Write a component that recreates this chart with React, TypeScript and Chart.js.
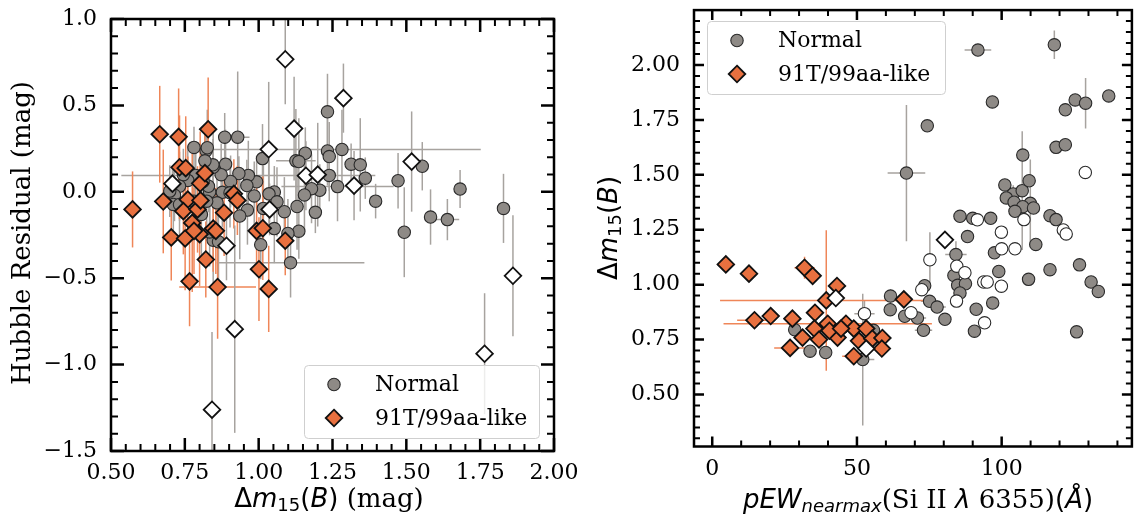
import { useEffect, useRef } from 'react';
import { Chart, registerables } from 'chart.js';

Chart.register(...registerables);

// ---------------- DATA ----------------
// Left panel: [Δm15(B), Hubble residual, xerr, yerr]
const hrNormal: number[][] = [
  [0.781, 0.257, 0, 0.12], [0.822, 0.238, 0, 0.15], [0.826, 0.255, 0, 0.22], [0.885, 0.316, 0, 0.14],
  [0.929, 0.316, 0.04, 0.38], [1.013, 0.192, 0, 0.2], [1.233, 0.463, 0, 0.22], [1.282, 0.245, 0.47, 0.23],
  [1.233, 0.236, 0, 0.2], [1.239, 0.204, 0, 0.2], [1.158, 0.223, 0, 0.15], [1.126, 0.179, 0.067, 0.3],
  [1.136, 0.175, 0, 0.25], [1.313, 0.16, 0, 0.12], [1.344, 0.156, 0, 0.27], [1.361, 0.079, 0, 0.12],
  [1.239, 0.095, 0, 0.15], [1.267, 0.03, 0.19, 0.2], [1.207, 0.009, 0, 0.15], [1.179, 0.018, 0, 0.2],
  [1.155, -0.018, 0, 0.2], [1.192, -0.119, 0, 0.12], [1.13, -0.085, 0, 0.25], [1.136, -0.228, 0, 0.16],
  [1.099, -0.241, 0, 0.2], [1.108, -0.411, 0.25, 0.2], [1.087, -0.115, 0, 0.2], [1.053, -0.001, 0, 0.15],
  [1.035, -0.012, 0, 0.2], [1.062, -0.058, 0, 0.2], [1.053, -0.213, 0, 0.2], [1.016, -0.096, 0, 0.25],
  [1.007, -0.306, 0, 0.2], [0.993, 0.058, 0, 0.15], [0.965, 0.095, 0.43, 0.2], [0.96, 0.036, 0, 0.15],
  [0.985, -0.024, 0, 0.2], [0.962, -0.106, 0, 0.2], [0.936, -0.14, 0, 0.25], [0.933, 0.106, 0, 0.1],
  [0.905, 0.06, 0, 0.15], [0.888, 0.16, 0, 0.2], [0.873, 0.099, 0, 0.18], [0.846, 0.142, 0, 0.2],
  [0.845, 0.156, 0, 0.15], [0.818, 0.179, 0, 0.2], [0.877, -0.003, 0, 0.2], [0.903, -0.006, 0, 0.2],
  [0.859, -0.064, 0, 0.25], [0.834, -0.001, 0, 0.2], [0.83, 0.032, 0, 0.15], [0.812, 0.06, 0, 0.2],
  [0.787, 0.095, 0, 0.15], [0.76, 0.066, 0, 0.2], [0.745, 0.099, 0, 0.15], [0.732, 0.032, 0, 0.2],
  [0.715, -0.02, 0, 0.15], [0.711, -0.073, 0, 0.2], [0.699, 0.004, 0, 0.15], [0.732, -0.073, 0, 0.2],
  [0.781, -0.054, 0, 0.2], [0.806, -0.131, 0, 0.25], [0.824, -0.054, 0, 0.2], [0.846, -0.28, 0, 0.25],
  [0.864, -0.289, 0, 0.3], [0.834, -0.232, 0, 0.2], [1.396, -0.054, 0, 0.1], [1.472, 0.064, 0, 0.16],
  [1.493, -0.234, 0, 0.26], [1.554, 0.148, 0, 0.14], [1.582, -0.146, 0, 0.16], [1.639, -0.161, 0.04, 0.12],
  [1.682, 0.016, 0, 0.11], [1.829, -0.096, 0, 0.2],
];
const hr91T: number[][] = [
  [0.573, -0.102, 0, 0.22], [0.665, 0.333, 0, 0.28], [0.729, 0.318, 0, 0.28], [0.829, 0.362, 0, 0.3],
  [0.732, 0.142, 0, 0.3], [0.753, 0.137, 0, 0.3], [0.802, 0.049, 0, 0.3], [0.818, 0.108, 0, 0.25],
  [0.677, -0.056, 0, 0.3], [0.76, -0.045, 0, 0.25], [0.745, -0.112, 0, 0.25], [0.793, -0.102, 0, 0.25],
  [0.803, -0.05, 0, 0.25], [0.775, -0.18, 0, 0.4], [0.704, -0.264, 0, 0.25], [0.751, -0.27, 0, 0.3],
  [0.8, -0.245, 0, 0.3], [0.846, -0.213, 0.03, 0.25], [0.883, -0.121, 0, 0.25], [0.821, -0.392, 0, 0.22],
  [0.766, -0.518, 0, 0.26], [0.861, -0.551, 0.13, 0.3], [0.916, -0.012, 0, 0.2], [0.928, -0.05, 0, 0.2],
  [0.993, -0.226, 0.02, 0.25], [1.014, -0.211, 0, 0.3], [1.001, -0.448, 0, 0.3], [1.034, -0.562, 0.02, 0.25],
  [1.09, -0.283, 0.02, 0.2], [0.781, -0.226, 0, 0.25], [0.855, -0.226, 0, 0.25],
];
const hr91TOpen: number[][] = [
  [0.708, 0.047, 0, 0.1], [1.09, 0.767, 0, 0.26], [1.287, 0.542, 0, 0.2], [1.12, 0.366, 0, 0.3],
  [1.034, 0.246, 0, 0.39], [1.16, 0.093, 0, 0.2], [1.2, 0.099, 0, 0.3], [1.323, 0.036, 0, 0.2],
  [1.518, 0.175, 0, 0.29], [1.037, -0.102, 0, 0.15], [0.891, -0.312, 0, 0.2], [0.919, -0.795, 0, 0.6],
  [0.842, -1.261, 0, 0.45], [1.765, -0.937, 0, 0.35], [1.861, -0.486, 0, 0.35],
];

// Right panel: [pEW(Si II 6355), Δm15(B), xerr, yerr]
const pewNormal: number[][] = [
  [91.8, 2.068, 4.6, 0], [118.2, 2.092, 0, 0.065], [96.8, 1.832, 0, 0], [74.3, 1.723, 0, 0],
  [137.0, 1.859, 0, 0], [125.4, 1.841, 0, 0], [129.0, 1.826, 0, 0.115], [122.0, 1.796, 0, 0],
  [118.8, 1.625, 0, 0], [122.0, 1.637, 0, 0], [67.1, 1.508, 6.5, 0.31], [107.3, 1.59, 0, 0],
  [101.1, 1.454, 0, 0], [104.0, 1.413, 0, 0.04], [101.6, 1.395, 0, 0], [107.1, 1.428, 0, 0.27],
  [109.5, 1.473, 0, 0], [109.9, 1.37, 0, 0.2], [104.3, 1.375, 0, 0], [107.3, 1.355, 0, 0],
  [111.0, 1.349, 0, 0], [104.6, 1.334, 0, 0], [85.6, 1.311, 0, 0], [90.0, 1.302, 0, 0],
  [96.2, 1.302, 0, 0], [116.7, 1.314, 0, 0], [118.8, 1.296, 0, 0], [88.2, 1.219, 0, 0],
  [111.8, 1.183, 0, 0], [97.5, 1.145, 0, 0], [84.2, 1.137, 3.7, 0.06], [99.0, 1.06, 0, 0],
  [116.7, 1.068, 0, 0], [126.9, 1.09, 0, 0], [109.3, 1.024, 0, 0], [83.5, 1.042, 0, 0],
  [84.8, 0.997, 0, 0], [87.5, 1.004, 0, 0], [85.6, 0.962, 0, 0], [130.9, 1.012, 0, 0],
  [133.4, 0.969, 0, 0], [96.9, 0.916, 0, 0], [91.2, 0.888, 0, 0], [125.9, 0.785, 0, 0],
  [90.6, 0.788, 0, 0], [73.4, 0.995, 0, 0], [75.1, 0.924, 3, 0], [77.7, 0.898, 3, 0],
  [80.4, 0.842, 0, 0], [73.0, 0.792, 3, 0], [61.6, 0.948, 0, 0.03], [61.5, 0.886, 0, 0],
  [66.5, 0.856, 0, 0], [70.9, 0.848, 3, 0], [28.5, 0.795, 0, 0], [33.8, 0.697, 0, 0],
  [39.2, 0.691, 0, 0], [52.0, 0.659, 4, 0.3], [55.7, 0.792, 0, 0],
];
const pewNormalOpen: number[][] = [
  [128.9, 1.511, 0, 0], [107.7, 1.296, 0, 0], [91.6, 1.295, 0, 0], [99.9, 1.239, 0, 0],
  [121.3, 1.249, 0, 0], [122.3, 1.231, 0, 0], [104.6, 1.163, 0, 0], [100.0, 1.163, 0, 0],
  [75.2, 1.113, 0, 0.125], [84.5, 1.084, 0, 0], [87.3, 1.054, 0, 0], [93.8, 1.012, 0, 0],
  [95.0, 1.012, 0, 0], [99.9, 0.993, 0, 0], [72.4, 0.977, 0, 0], [84.4, 0.925, 0, 0],
  [94.1, 0.826, 0, 0], [68.7, 0.872, 0, 0], [52.6, 0.868, 3.5, 0.06],
];
const pew91T: number[][] = [
  [4.7, 1.092, 3, 0], [12.7, 1.05, 0, 0], [31.9, 1.077, 3.5, 0.05], [34.7, 1.04, 0, 0.03],
  [43.1, 0.994, 0, 0], [39.4, 0.928, 36.7, 0.32], [66.2, 0.933, 0, 0], [14.6, 0.838, 6, 0],
  [20.2, 0.857, 0, 0], [27.7, 0.845, 0, 0], [35.5, 0.872, 0, 0], [39.9, 0.822, 36, 0],
  [35.3, 0.8, 0, 0], [31.2, 0.759, 0, 0], [36.9, 0.75, 0, 0], [43.3, 0.759, 0, 0],
  [26.9, 0.712, 5.5, 0], [46.2, 0.822, 0, 0], [48.9, 0.8, 0, 0], [53.2, 0.8, 0, 0],
  [50.7, 0.744, 0, 0], [48.9, 0.674, 4, 0], [55.3, 0.754, 0, 0], [58.8, 0.757, 0, 0],
  [58.6, 0.709, 0, 0], [40.5, 0.79, 0, 0], [44.5, 0.8, 0, 0],
];
const pew91TOpen: number[][] = [
  [80.4, 1.204, 0, 0], [42.7, 0.939, 0, 0], [53.2, 0.709, 0, 0],
];

const leftXTicks = [0.5, 0.75, 1.0, 1.25, 1.5, 1.75, 2.0];
const leftXTickLabels = ['0.50', '0.75', '1.00', '1.25', '1.50', '1.75', '2.00'];
const leftYTicks = [-1.5, -1.0, -0.5, 0.0, 0.5, 1.0];
const leftYTickLabels = ['\u22121.5', '\u22121.0', '\u22120.5', '0.0', '0.5', '1.0'];
const rightXTicks = [0, 50, 100];
const rightXTickLabels = ['0', '50', '100'];
const rightYTicks = [0.5, 0.75, 1.0, 1.25, 1.5, 1.75, 2.0];
const rightYTickLabels = ['0.50', '0.75', '1.00', '1.25', '1.50', '1.75', '2.00'];
const legendLabels = ['Normal', '91T/99aa-like'];

// ---------------- STYLE ----------------
const SERIF = '"DejaVu Serif", "Liberation Serif", serif';
const SANS = '"DejaVu Sans", sans-serif';
const GRAY_FILL = '#8e8a86';
const GRAY_EDGE = '#2a2a2a';
const GRAY_ERR = '#a7a39f';
const ORANGE_FILL = '#e8703f';
const ORANGE_ERR = '#ef8658';
const TICK_FONT = 22;
const TITLE_FONT = 26;
const CIRCLE_R = 6.2;
const DIAMOND_R = 8.3;

type Seg = { t: string; font: string; dy?: number };

const toPoints = (rows: number[][]) =>
  rows.map((r) => ({ x: r[0], y: r[1], xerr: r[2] || 0, yerr: r[3] || 0 }));

function dataset(label: string, rows: number[][], kind: string, order: number, errColor: string) {
  const isDiamond = kind === 't91' || kind === 't91Open';
  const fill = kind === 'normal' ? GRAY_FILL : kind === 't91' ? ORANGE_FILL : '#ffffff';
  return {
    label,
    data: toPoints(rows),
    order,
    errColor,
    showLine: false,
    pointStyle: isDiamond ? 'rectRot' : 'circle',
    pointRadius: isDiamond ? DIAMOND_R : CIRCLE_R,
    pointBackgroundColor: fill,
    pointBorderColor: isDiamond ? '#111111' : GRAY_EDGE,
    pointBorderWidth: isDiamond ? 1.8 : 1.1,
    backgroundColor: fill,
    borderColor: isDiamond ? '#111111' : GRAY_EDGE,
  };
}

function drawRich(ctx: CanvasRenderingContext2D, segs: Seg[], x: number, y: number, rotate: boolean) {
  ctx.save();
  ctx.translate(x, y);
  if (rotate) ctx.rotate(-Math.PI / 2);
  let total = 0;
  for (const s of segs) {
    ctx.font = s.font;
    total += ctx.measureText(s.t).width;
  }
  let cx = -total / 2;
  ctx.textAlign = 'left';
  ctx.textBaseline = 'alphabetic';
  ctx.fillStyle = '#000';
  for (const s of segs) {
    ctx.font = s.font;
    ctx.fillText(s.t, cx, s.dy || 0);
    cx += ctx.measureText(s.t).width;
  }
  ctx.restore();
}

function marker(ctx: CanvasRenderingContext2D, kind: string, x: number, y: number) {
  ctx.beginPath();
  if (kind === 'circle') {
    ctx.arc(x, y, CIRCLE_R, 0, Math.PI * 2);
    ctx.fillStyle = GRAY_FILL;
    ctx.strokeStyle = GRAY_EDGE;
    ctx.lineWidth = 1.1;
  } else {
    const r = DIAMOND_R;
    ctx.moveTo(x, y - r);
    ctx.lineTo(x + r, y);
    ctx.lineTo(x, y + r);
    ctx.lineTo(x - r, y);
    ctx.closePath();
    ctx.fillStyle = ORANGE_FILL;
    ctx.strokeStyle = '#111111';
    ctx.lineWidth = 1.8;
  }
  ctx.fill();
  ctx.stroke();
}

function makeDecor(spec: any) {
  return {
    id: 'decor' + spec.id,
    beforeDatasetsDraw(chart: any) {
      const ctx = chart.ctx as CanvasRenderingContext2D;
      const a = chart.chartArea;
      const xs = chart.scales.x;
      const ys = chart.scales.y;
      ctx.save();
      ctx.beginPath();
      ctx.rect(a.left, a.top, a.right - a.left, a.bottom - a.top);
      ctx.clip();
      ctx.lineWidth = 1.5;
      const sets = [...chart.data.datasets].sort((p: any, q: any) => q.order - p.order);
      for (const ds of sets) {
        ctx.strokeStyle = ds.errColor;
        for (const p of ds.data) {
          const px = xs.getPixelForValue(p.x);
          const py = ys.getPixelForValue(p.y);
          ctx.beginPath();
          if (p.xerr) {
            ctx.moveTo(xs.getPixelForValue(p.x - p.xerr), py);
            ctx.lineTo(xs.getPixelForValue(p.x + p.xerr), py);
          }
          if (p.yerr) {
            ctx.moveTo(px, ys.getPixelForValue(p.y - p.yerr));
            ctx.lineTo(px, ys.getPixelForValue(p.y + p.yerr));
          }
          ctx.stroke();
        }
      }
      ctx.restore();
    },
    afterDraw(chart: any) {
      const ctx = chart.ctx as CanvasRenderingContext2D;
      const a = chart.chartArea;
      const xs = chart.scales.x;
      const ys = chart.scales.y;
      ctx.save();
      const drawX = (v: number, len: number, w: number) => {
        const px = xs.getPixelForValue(v);
        ctx.lineWidth = w;
        ctx.beginPath();
        ctx.moveTo(px, a.bottom);
        ctx.lineTo(px, a.bottom - len);
        ctx.moveTo(px, a.top);
        ctx.lineTo(px, a.top + len);
        ctx.stroke();
      };
      const drawY = (v: number, len: number, w: number) => {
        const py = ys.getPixelForValue(v);
        ctx.lineWidth = w;
        ctx.beginPath();
        ctx.moveTo(a.left, py);
        ctx.lineTo(a.left + len, py);
        ctx.moveTo(a.right, py);
        ctx.lineTo(a.right - len, py);
        ctx.stroke();
      };
      ctx.strokeStyle = '#000';
      const minorList = (min: number, max: number, step: number, majors: number[]) => {
        const out: number[] = [];
        const k0 = Math.ceil(min / step - 1e-6);
        const k1 = Math.floor(max / step + 1e-6);
        for (let k = k0; k <= k1; k++) {
          const v = k * step;
          if (!majors.some((m) => Math.abs(m - v) < step / 10)) out.push(v);
        }
        return out;
      };
      for (const v of minorList(spec.xMin, spec.xMax, spec.xMinor, spec.xTicks)) drawX(v, spec.minorLen, 2);
      for (const v of minorList(spec.yMin, spec.yMax, spec.yMinor, spec.yTicks)) drawY(v, spec.minorLen, 2);
      for (const v of spec.xTicks) drawX(v, spec.majorLen, 2.5);
      for (const v of spec.yTicks) drawY(v, spec.majorLen, 2.5);
      ctx.lineWidth = 2.5;
      ctx.strokeRect(a.left, a.top, a.right - a.left, a.bottom - a.top);

      const L = spec.legend;
      ctx.beginPath();
      ctx.roundRect(L.x + 0.5, L.y + 0.5, L.w, L.h, 4);
      ctx.fillStyle = 'rgba(255,255,255,0.8)';
      ctx.fill();
      ctx.strokeStyle = '#cfcfcf';
      ctx.lineWidth = 1;
      ctx.stroke();
      marker(ctx, 'circle', L.x + 30, L.y + 19.5);
      marker(ctx, 'diamond', L.x + 30, L.y + 53);
      ctx.fillStyle = '#000';
      ctx.font = `${TICK_FONT}px ${SERIF}`;
      ctx.textAlign = 'left';
      ctx.textBaseline = 'middle';
      ctx.fillText(legendLabels[0], L.x + 71, L.y + 20.5);
      ctx.fillText(legendLabels[1], L.x + 71, L.y + 54);

      drawRich(ctx, spec.xTitle, spec.xTitlePos[0], spec.xTitlePos[1], false);
      drawRich(ctx, spec.yTitle, spec.yTitlePos[0], spec.yTitlePos[1], true);
      ctx.restore();
    },
  };
}

function buildConfig(spec: any) {
  return {
    type: 'scatter',
    data: { datasets: spec.datasets },
    options: {
      responsive: false,
      maintainAspectRatio: false,
      animation: false,
      devicePixelRatio: 1,
      events: [],
      layout: { padding: { left: 0, right: spec.padRight, top: spec.padTop, bottom: 0 } },
      plugins: { legend: { display: false }, tooltip: { enabled: false } },
      scales: {
        x: {
          type: 'linear',
          min: spec.xMin,
          max: spec.xMax,
          grid: { display: false, drawTicks: false },
          border: { display: false },
          ticks: {
            font: { family: SERIF, size: TICK_FONT },
            color: '#000',
            padding: spec.xPad,
            maxRotation: 0,
            autoSkip: false,
            callback: (_v: any, i: number) => spec.xLabels[i],
          },
          afterBuildTicks: (s: any) => {
            s.ticks = spec.xTicks.map((v: number) => ({ value: v }));
          },
          afterFit: (s: any) => {
            s.height = spec.xAxisH;
            s.paddingLeft = 0;
            s.paddingRight = 0;
          },
        },
        y: {
          type: 'linear',
          min: spec.yMin,
          max: spec.yMax,
          grid: { display: false, drawTicks: false },
          border: { display: false },
          ticks: {
            font: { family: SERIF, size: TICK_FONT },
            color: '#000',
            padding: spec.yPad,
            autoSkip: false,
            callback: (_v: any, i: number) => spec.yLabels[i],
          },
          afterBuildTicks: (s: any) => {
            s.ticks = spec.yTicks.map((v: number) => ({ value: v }));
          },
          afterFit: (s: any) => {
            s.width = spec.yAxisW;
            s.paddingTop = 0;
            s.paddingBottom = 0;
          },
        },
      },
    },
    plugins: [makeDecor(spec)],
  };
}

const sans = (size: number, italic = false) => `${italic ? 'italic ' : ''}${size}px ${SANS}`;
const serif = (size: number) => `${size}px ${SERIF}`;
const SUB = Math.round(TITLE_FONT * 0.7);

const LEFT_W = 610;

const leftSpec = {
  id: 'L',
  width: LEFT_W,
  xMin: 0.5, xMax: 2.0, yMin: -1.5, yMax: 1.0,
  xTicks: leftXTicks, xLabels: leftXTickLabels, yTicks: leftYTicks, yLabels: leftYTickLabels,
  xMinor: 0.05, yMinor: 0.1, majorLen: 13, minorLen: 7,
  padRight: LEFT_W - 554, padTop: 19, xAxisH: 521 - 451, yAxisW: 111, xPad: 9, yPad: 14,
  legend: { x: 304, y: 365, w: 235, h: 73 },
  xTitle: [
    { t: '\u0394', font: sans(TITLE_FONT) },
    { t: 'm', font: sans(TITLE_FONT, true) },
    { t: '15', font: sans(SUB), dy: 4 },
    { t: '(', font: sans(TITLE_FONT) },
    { t: 'B', font: sans(TITLE_FONT, true) },
    { t: ')', font: sans(TITLE_FONT) },
    { t: ' (mag)', font: serif(TITLE_FONT) },
  ],
  xTitlePos: [329, 507],
  yTitle: [{ t: 'Hubble Residual (mag)', font: serif(TITLE_FONT) }],
  yTitlePos: [30, 233],
  datasets: [
    dataset('Normal', hrNormal, 'normal', 3, GRAY_ERR),
    dataset('91T/99aa-like', hr91T, 't91', 2, ORANGE_ERR),
    dataset('91T/99aa-like (other)', hr91TOpen, 't91Open', 1, GRAY_ERR),
  ],
};

const rightSpec = {
  id: 'R',
  width: 571,
  xMin: -6.3, xMax: 145, yMin: 0.263, yMax: 2.25,
  xTicks: rightXTicks, xLabels: rightXTickLabels, yTicks: rightYTicks, yLabels: rightYTickLabels,
  xMinor: 10, yMinor: 0.05, majorLen: 10, minorLen: 6,
  padRight: 1, padTop: 9, xAxisH: 521 - 446.5, yAxisW: 694 - 571, xPad: 10, yPad: 14,
  legend: { x: 136, y: 21, w: 238, h: 73 },
  xTitle: [
    { t: 'pEW', font: sans(TITLE_FONT, true) },
    { t: 'nearmax', font: sans(SUB, true), dy: 4 },
    { t: '(Si II ', font: serif(TITLE_FONT) },
    { t: '\u03bb', font: sans(TITLE_FONT, true) },
    { t: ' 6355)', font: serif(TITLE_FONT) },
    { t: '(', font: sans(TITLE_FONT) },
    { t: '\u00c5', font: sans(TITLE_FONT, true) },
    { t: ')', font: sans(TITLE_FONT) },
  ],
  xTitlePos: [918 - 571, 508],
  yTitle: [
    { t: '\u0394', font: sans(TITLE_FONT) },
    { t: 'm', font: sans(TITLE_FONT, true) },
    { t: '15', font: sans(SUB), dy: 4 },
    { t: '(', font: sans(TITLE_FONT) },
    { t: 'B', font: sans(TITLE_FONT, true) },
    { t: ')', font: sans(TITLE_FONT) },
  ],
  yTitlePos: [617 - 571, 228],
  datasets: [
    dataset('Normal', pewNormal, 'normal', 4, GRAY_ERR),
    dataset('Normal (other)', pewNormalOpen, 'normalOpen', 3, GRAY_ERR),
    dataset('91T/99aa-like', pew91T, 't91', 2, ORANGE_ERR),
    dataset('91T/99aa-like (other)', pew91TOpen, 't91Open', 1, GRAY_ERR),
  ],
};

function Panel({ spec, left, z }: { spec: any; left: number; z: number }) {
  const ref = useRef<HTMLCanvasElement>(null);
  useEffect(() => {
    if (!ref.current) return;
    const chart = new Chart(ref.current, buildConfig(spec) as any);
    return () => chart.destroy();
  }, [spec]);
  return (
    <canvas
      ref={ref}
      width={spec.width}
      height={521}
      style={{ position: 'absolute', left, top: 0, width: spec.width, height: 521, zIndex: z }}
    />
  );
}

export default function App() {
  return (
    <div style={{ position: 'absolute', left: 0, top: 0, width: 1142, height: 521, background: '#fff', overflow: 'hidden' }}>
      <Panel spec={leftSpec} left={0} z={2} />
      <Panel spec={rightSpec} left={571} z={1} />
    </div>
  );
}
